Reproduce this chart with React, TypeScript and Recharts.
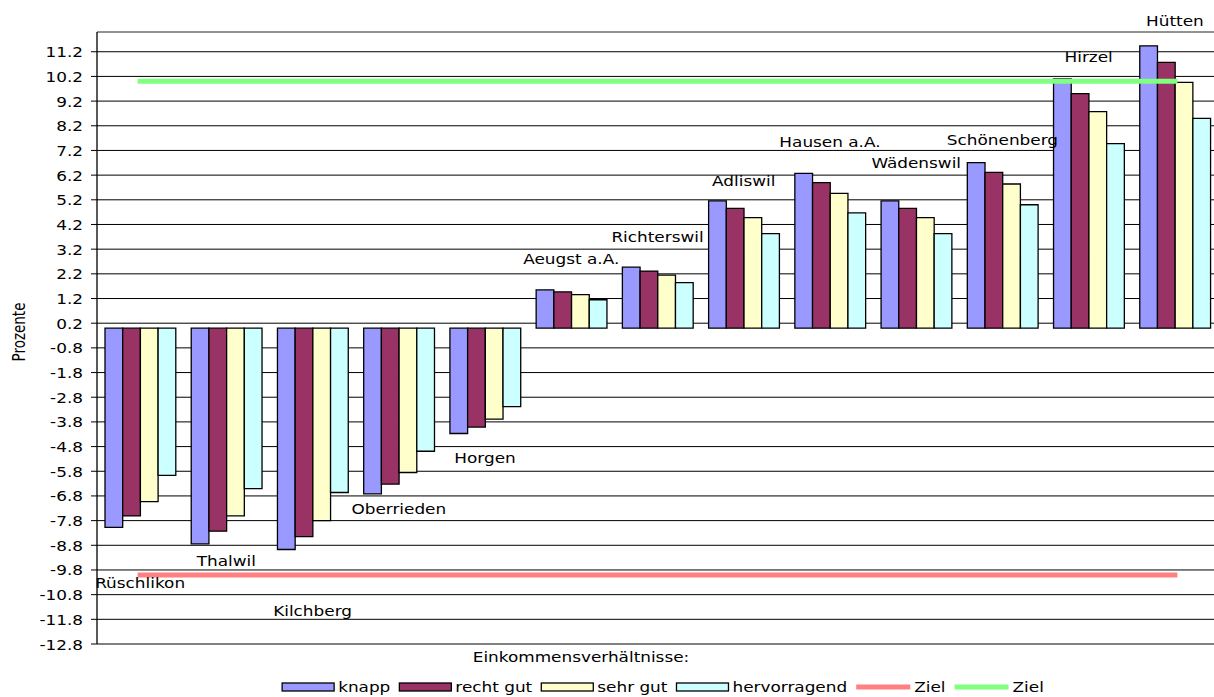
import React from 'react';
import { BarChart, Bar, Line, XAxis, YAxis, CartesianGrid, ReferenceLine, LabelList } from 'recharts';

// ---------- data ----------
const CATEGORIES = [
  'Rüschlikon', 'Thalwil', 'Kilchberg', 'Oberrieden', 'Horgen', 'Aeugst a.A.', 'Richterswil',
  'Adliswil', 'Hausen a.A.', 'Wädenswil', 'Schönenberg', 'Hirzel', 'Hütten',
];
const KNAPP = [-8.07, -8.74, -8.97, -6.72, -4.27, 1.55, 2.47, 5.16, 6.27, 5.16, 6.71, 10.1, 11.44];
const RECHT_GUT = [-7.61, -8.23, -8.45, -6.32, -4.01, 1.47, 2.31, 4.85, 5.9, 4.85, 6.31, 9.5, 10.77];
const SEHR_GUT = [-7.03, -7.61, -7.8, -5.85, -3.69, 1.36, 2.15, 4.48, 5.46, 4.48, 5.84, 8.77, 9.96];
const HERVORRAGEND = [-5.97, -6.5, -6.66, -4.99, -3.18, 1.15, 1.84, 3.83, 4.67, 3.83, 5.0, 7.48, 8.5];
const ZIEL_UNTEN = [-10, -10, -10, -10, -10, -10, -10, -10, -10, -10, -10, -10, -10];
const ZIEL_OBEN = [10, 10, 10, 10, 10, 10, 10, 10, 10, 10, 10, 10, 10];
// value at which each municipality's name label sits
const LABEL_AT = [-10.54, -9.63, -11.66, -7.54, -5.45, 2.61, 3.51, 5.74, 7.35, 6.5, 7.43, 10.77, 12.23];

const Y_TICKS = [
  -12.8, -11.8, -10.8, -9.8, -8.8, -7.8, -6.8, -5.8, -4.8, -3.8, -2.8, -1.8, -0.8,
  0.2, 1.2, 2.2, 3.2, 4.2, 5.2, 6.2, 7.2, 8.2, 9.2, 10.2, 11.2,
];
const Y_MIN = -12.8;
const Y_MAX = 12;

const BAR_NAMES = ['knapp', 'recht gut', 'sehr gut', 'hervorragend'];
const LINE_NAMES = ['Ziel', 'Ziel'];
const AXIS_TITLE = 'Prozente';
const LEGEND_TITLE = 'Einkommensverhältnisse:';

// ---------- styles ----------
const BAR_KEYS = ['knapp', 'rechtGut', 'sehrGut', 'hervorragend'];
const BAR_COLORS = ['#9999FF', '#993366', '#FFFFCC', '#CCFFFF'];
const LINE_KEYS = ['zielUnten', 'zielOben'];
const LINE_COLORS = ['#FF8080', '#80FF80'];
const FONT = "'DejaVu Sans', Verdana, sans-serif";
const FS = 13.5;
const SX = 1.25; // horizontal stretch of the original rendering

const data = CATEGORIES.map((name, i) => ({
  name,
  knapp: KNAPP[i],
  rechtGut: RECHT_GUT[i],
  sehrGut: SEHR_GUT[i],
  hervorragend: HERVORRAGEND[i],
  zielUnten: ZIEL_UNTEN[i],
  zielOben: ZIEL_OBEN[i],
  labelAt: LABEL_AT[i],
}));

let measureCtx: CanvasRenderingContext2D | null = null;
function textWidth(t: string): number {
  if (typeof document === 'undefined') return t.length * 8;
  if (!measureCtx) measureCtx = document.createElement('canvas').getContext('2d');
  if (!measureCtx) return t.length * 8;
  measureCtx.font = `${FS}px "DejaVu Sans"`;
  return measureCtx.measureText(t).width * SX;
}

function SText({ x, y, anchor = 'start', children }: { x: number; y: number; anchor?: string; children: any }) {
  return (
    <g transform={`translate(${x},${y}) scale(${SX},1)`}>
      <text x={0} y={0} textAnchor={anchor as any} fontFamily={FONT} fontSize={FS} fill="#000">
        {children}
      </text>
    </g>
  );
}

const YTick = (props: any) => {
  const { x, y, payload } = props;
  return (
    <SText x={x} y={y + 5.5} anchor="end">
      {Number(payload.value).toFixed(1)}
    </SText>
  );
};

const NameLabel = (props: any) => {
  const x = props.x ?? props.viewBox?.x;
  const y = props.y ?? props.viewBox?.y;
  const name = props.index != null && CATEGORIES[props.index] != null ? CATEGORIES[props.index] : props.value;
  if (x == null || y == null) return null;
  return (
    <SText x={x} y={y} anchor="middle">
      {name}
    </SText>
  );
};

function Overlay() {
  // legend layout
  const swatchW = 52;
  const lineW = 54;
  const gapIn = 4;
  const gapOut = 9;
  const items = [
    ...BAR_NAMES.map((n, i) => ({ name: n, color: BAR_COLORS[i], kind: 'bar', w: swatchW })),
    ...LINE_NAMES.map((n, i) => ({ name: n, color: LINE_COLORS[i], kind: 'line', w: lineW })),
  ];
  const widths = items.map((it) => it.w + gapIn + textWidth(it.name));
  const total = widths.reduce((a, b) => a + b, 0) + gapOut * (items.length - 1);
  const center = 663;
  let cx = center - total / 2;
  const nodes = items.map((it, i) => {
    const x0 = cx;
    cx += widths[i] + gapOut;
    return (
      <g key={i}>
        {it.kind === 'bar' ? (
          <rect x={x0} y={683} width={it.w} height={8} fill={it.color} stroke="#000" strokeWidth={1.3} />
        ) : (
          <rect x={x0} y={684.5} width={it.w} height={5} fill={it.color} />
        )}
        <SText x={x0 + it.w + gapIn} y={692}>
          {it.name}
        </SText>
      </g>
    );
  });
  return (
    <svg width={1214} height={697} style={{ position: 'absolute', left: 0, top: 0, pointerEvents: 'none' }}>
      <g transform={`translate(25,332) scale(${SX},1) rotate(-90)`}>
        <text x={0} y={0} textAnchor="middle" fontFamily={FONT} fontSize={FS} fill="#000">
          {AXIS_TITLE}
        </text>
      </g>
      <SText x={581} y={662} anchor="middle">
        {LEGEND_TITLE}
      </SText>
      {nodes}
    </svg>
  );
}

export default function App() {
  return (
    <div
      style={{
        position: 'absolute',
        left: 0,
        top: 0,
        width: 1214,
        height: 697,
        overflow: 'hidden',
        background: '#fff',
      }}
    >
      <BarChart
        width={1220}
        height={697}
        data={data}
        margin={{ top: 32, right: 2, bottom: 52, left: 37 }}
        barGap={0}
      >
        <CartesianGrid vertical={false} stroke="#000" strokeWidth={1} />
        <ReferenceLine y={Y_MAX} stroke="#999" strokeWidth={1.5} />
        <XAxis
          dataKey="name"
          type="category"
          height={1}
          tick={false}
          tickLine={false}
          axisLine={{ stroke: '#808080', strokeWidth: 1.5 }}
        />
        <YAxis
          type="number"
          domain={[Y_MIN, Y_MAX]}
          allowDataOverflow
          ticks={Y_TICKS}
          interval={0}
          width={60}
          tickSize={6}
          tickMargin={8}
          tick={<YTick />}
          tickLine={{ stroke: '#000' }}
          axisLine={{ stroke: '#000', strokeWidth: 1.3 }}
        />
        {BAR_KEYS.map((k, i) => (
          <Bar
            key={k}
            dataKey={k}
            name={BAR_NAMES[i]}
            fill={BAR_COLORS[i]}
            stroke="#000"
            strokeWidth={1.3}
            barSize={17.7}
            isAnimationActive={false}
          />
        ))}
        {LINE_KEYS.map((k, i) => (
          <Line
            key={k}
            dataKey={k}
            name={LINE_NAMES[i]}
            type="linear"
            stroke={LINE_COLORS[i]}
            strokeWidth={5}
            strokeLinecap="square"
            dot={false}
            activeDot={false}
            isAnimationActive={false}
          />
        ))}
        <Line
          dataKey="labelAt"
          type="linear"
          stroke="none"
          dot={false}
          activeDot={false}
          legendType="none"
          isAnimationActive={false}
        >
          <LabelList dataKey="name" content={<NameLabel />} />
        </Line>
      </BarChart>
      <Overlay />
    </div>
  );
}
